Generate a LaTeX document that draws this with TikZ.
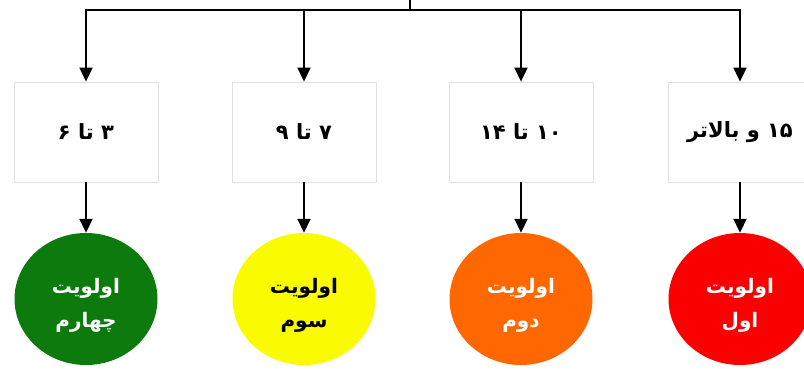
\documentclass[tikz,border=0pt]{standalone}
\usepackage{fontspec}
\usetikzlibrary{arrows.meta,shapes.geometric}
\TeXXeTstate=1
\newfontfamily\arabicfont[Script=Arabic]{DejaVu Sans}
\definecolor{cgreen}{RGB}{12,122,12}
\definecolor{cyellow}{RGB}{250,250,0}
\definecolor{corange}{RGB}{255,104,0}
\definecolor{cred}{RGB}{250,0,0}
\newcommand{\prioText}[2]{\raisebox{-11pt}[0pt][0pt]{\begin{tabular}{@{}c@{}}\beginR #1\endR\\[6pt]\beginR #2\endR\end{tabular}}}
\tikzset{
  arr/.style={line width=1.8pt,-{Triangle[width=13pt,length=14pt]}},
  plain/.style={line width=1.8pt},
  rangebox/.style={draw=black!12,line width=0.8pt,minimum width=144pt,minimum height=100pt,inner sep=0pt,font=\arabicfont\bfseries\fontsize{21}{24}\selectfont},
  prio/.style={ellipse,minimum width=143pt,minimum height=132pt,inner sep=0pt,font=\arabicfont\bfseries\fontsize{20}{28}\selectfont}
}
\begin{document}
\begin{tikzpicture}[x=1pt,y=-1pt]
\useasboundingbox (0,0) rectangle (804,368);
\coordinate (top) at (410,-2);
\coordinate (j) at (410,10);
\node[rangebox] (b1) at (86,132) {\beginR ۳ تا ۶\endR};
\node[rangebox] (b2) at (304,132) {\beginR ۷ تا ۹\endR};
\node[rangebox] (b3) at (521,132) {\beginR ۱۰ تا ۱۴\endR};
\node[rangebox] (b4) at (740,132) {\beginR ۱۵ و بالاتر\endR};
\node[prio,fill=cgreen,text=white] (c1) at (86,299) {\prioText{اولویت}{چهارم}};
\node[prio,fill=cyellow,text=black] (c2) at (304,299) {\prioText{اولویت}{سوم}};
\node[prio,fill=corange,text=white] (c3) at (521,299) {\prioText{اولویت}{دوم}};
\node[prio,fill=cred,text=white] (c4) at (740,299) {\prioText{اولویت}{اول}};
\draw[plain] (top) -- (j);
\foreach \i in {1,2,3,4} {
  \draw[arr] (j) -| (b\i.north);
  \draw[arr] (b\i.south) -- (c\i.north);
}
\end{tikzpicture}
\end{document}
